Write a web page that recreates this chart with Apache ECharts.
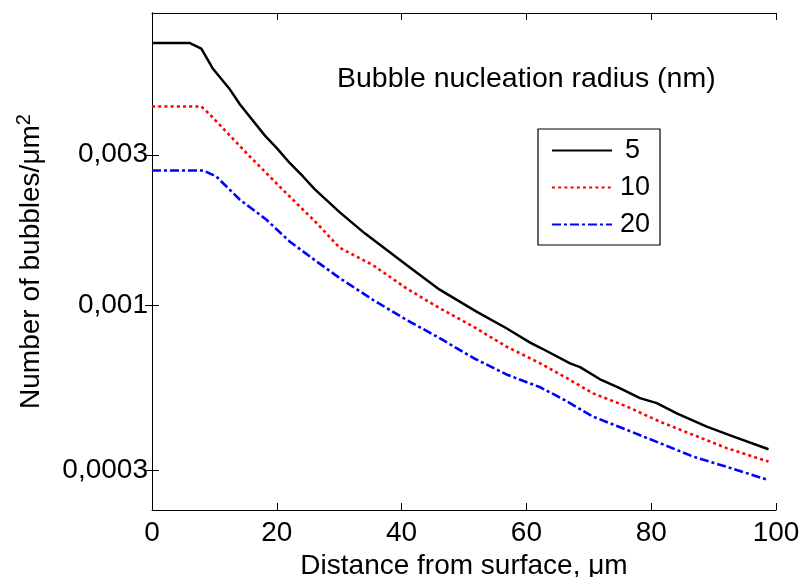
<!DOCTYPE html>
<html><head><meta charset="utf-8">
<script src="https://cdn.jsdelivr.net/npm/echarts@6/dist/echarts.min.js"></script>
<style>html,body{margin:0;padding:0;background:#fff}#c{width:801px;height:577px}</style>
</head><body><div id="c"></div>
<script>
const seriesNames = ['5', '10', '20'];
const xTicks = [0, 20, 40, 60, 80, 100];
const yTicks = [0.0003, 0.001, 0.003];

const dist5 = [0, 6, 7.9, 9.8, 12.5, 14.1, 18.1, 20, 22.1, 24.2, 26.1, 30.1, 34.1, 40.8, 46.1, 52, 56.8, 60.6, 62.4, 67, 68.6, 71.8, 74.7, 78.2, 80.9, 84.1, 88.9, 93.2, 98.8];
const num5 = [0.00679, 0.00679, 0.00651, 0.00561, 0.00483, 0.00433, 0.00345, 0.00315, 0.00282, 0.00256, 0.00233, 0.00197, 0.00169, 0.00134, 0.00112, 0.000954, 0.000845, 0.000761, 0.00073, 0.000654, 0.000636, 0.000582, 0.000549, 0.000507, 0.000489, 0.000454, 0.000412, 0.000383, 0.000349];

const dist10 = [0, 7.9, 9.3, 15.7, 21, 26.4, 30.1, 35.4, 40.8, 46.1, 51.5, 56.8, 62.2, 67, 70.7, 76.1, 81.4, 86.7, 92.1, 98.8];
const num10 = [0.00427, 0.00427, 0.00402, 0.00296, 0.00232, 0.00182, 0.00152, 0.00134, 0.00113, 0.000978, 0.000855, 0.000739, 0.000654, 0.000579, 0.000525, 0.000477, 0.000427, 0.000388, 0.000352, 0.000319];

const dist20 = [0, 8.2, 10.3, 14.1, 18.3, 22.1, 26.4, 30.1, 35.4, 40.8, 46.1, 51.5, 56.8, 62.2, 65.9, 70.7, 76.1, 81.4, 86.7, 92.1, 98.5];
const num20 = [0.002675, 0.002675, 0.00256, 0.00216, 0.00187, 0.00159, 0.001375, 0.001218, 0.00104, 0.000898, 0.000786, 0.00068, 0.000603, 0.000549, 0.000503, 0.000443, 0.000402, 0.000365, 0.000331, 0.000307, 0.00028];

const FONT = "'Liberation Sans', Arial, Helvetica, sans-serif";
const zip = (a, b) => a.map((v, i) => [v, b[i]]);

const chart = echarts.init(document.getElementById('c'), null, {renderer: 'canvas'});

const axisLineStyle = {show: true, lineStyle: {color: '#000', width: 1}};
const yFmt = v => String(v).replace('.', ',');

const option = {
  animation: false,
  backgroundColor: '#fff',
  textStyle: {fontFamily: FONT},
  title: {
    text: 'Bubble nucleation radius (nm)',
    left: 332, top: 60,
    textStyle: {fontSize: 28.5, fontWeight: 'normal', color: '#000', fontFamily: FONT, lineHeight: 28}
  },
  legend: {
    orient: 'vertical',
    left: 538, top: 129,
    padding: [8, 10, 7, 13],
    itemWidth: 60, itemHeight: 14, itemGap: 10,
    selectedMode: false,
    backgroundColor: '#fff',
    borderColor: '#000', borderWidth: 1.2,
    itemStyle: {color: 'transparent', borderColor: 'transparent', borderWidth: 0, opacity: 0},
    data: seriesNames,
    formatter: n => n.length === 1 ? '{p|' + n + '}' : '{q|' + n + '}',
    textStyle: {
      fontSize: 27, lineHeight: 25, color: '#000', fontFamily: FONT,
      rich: {
        p: {fontSize: 27, lineHeight: 25, color: '#000', fontFamily: FONT, padding: [0, 0, 0, 8]},
        q: {fontSize: 27, lineHeight: 25, color: '#000', fontFamily: FONT, padding: [0, 0, 0, 3]}
      }
    }
  },
  grid: {left: 152, top: 13, right: 25, bottom: 67, containLabel: false, outerBoundsMode: 'none'},
  xAxis: [{
    type: 'value', min: 0, max: 100, interval: 20, position: 'bottom',
    axisLine: axisLineStyle,
    axisTick: {show: true, inside: true, length: 7, lineStyle: {color: '#000'}},
    axisLabel: {show: true, fontSize: 28, lineHeight: 28, color: '#000', fontFamily: FONT, margin: 9,
      customValues: xTicks},
    splitLine: {show: false},
    name: 'Distance from surface, μm', nameLocation: 'middle', nameGap: 41,
    nameTextStyle: {fontSize: 28, lineHeight: 28, color: '#000', fontFamily: FONT}
  }, {
    type: 'value', min: 0, max: 100, interval: 20, position: 'top',
    axisLine: axisLineStyle,
    axisTick: {show: true, inside: true, length: 7, lineStyle: {color: '#000'}},
    axisLabel: {show: false},
    splitLine: {show: false}
  }],
  yAxis: [{
    type: 'log', logBase: 10, min: 0.000224, max: 0.00845, position: 'left',
    axisLine: axisLineStyle,
    axisTick: {show: true, inside: true, length: 7, lineStyle: {color: '#000'}, customValues: yTicks},
    axisLabel: {show: true, fontSize: 28, color: '#000', fontFamily: FONT, margin: 4,
      customValues: yTicks, formatter: yFmt},
    minorTick: {show: false},
    splitLine: {show: false},
    name: 'Number of bubbles/μm{s|2}', nameLocation: 'middle', nameGap: 104,
    nameTextStyle: {fontSize: 28, lineHeight: 34, color: '#000', fontFamily: FONT,
      rich: {s: {fontSize: 20, lineHeight: 20, verticalAlign: 'top', color: '#000', fontFamily: FONT}}}
  }, {
    type: 'log', logBase: 10, min: 0.000224, max: 0.00845, position: 'right',
    axisLine: axisLineStyle,
    axisTick: {show: true, inside: true, length: 7, lineStyle: {color: '#000'}, customValues: yTicks},
    axisLabel: {show: false, customValues: yTicks},
    splitLine: {show: false}
  }],
  series: [{
    name: seriesNames[0], type: 'line', xAxisIndex: 0, yAxisIndex: 0,
    data: zip(dist5, num5), symbol: 'none', smooth: false,
    lineStyle: {color: '#000', width: 2.5, type: 'solid'}, itemStyle: {color: '#000'}
  }, {
    name: seriesNames[1], type: 'line', xAxisIndex: 0, yAxisIndex: 0,
    data: zip(dist10, num10), symbol: 'none', smooth: false,
    lineStyle: {color: '#ff0000', width: 2.6, type: [3, 3.2]}, itemStyle: {color: '#ff0000'}
  }, {
    name: seriesNames[2], type: 'line', xAxisIndex: 0, yAxisIndex: 0,
    data: zip(dist20, num20), symbol: 'none', smooth: false,
    lineStyle: {color: '#0000ff', width: 2.6, type: [9, 3, 3, 3]}, itemStyle: {color: '#0000ff'}
  }]
};
chart.setOption(option);
</script>
</body></html>
